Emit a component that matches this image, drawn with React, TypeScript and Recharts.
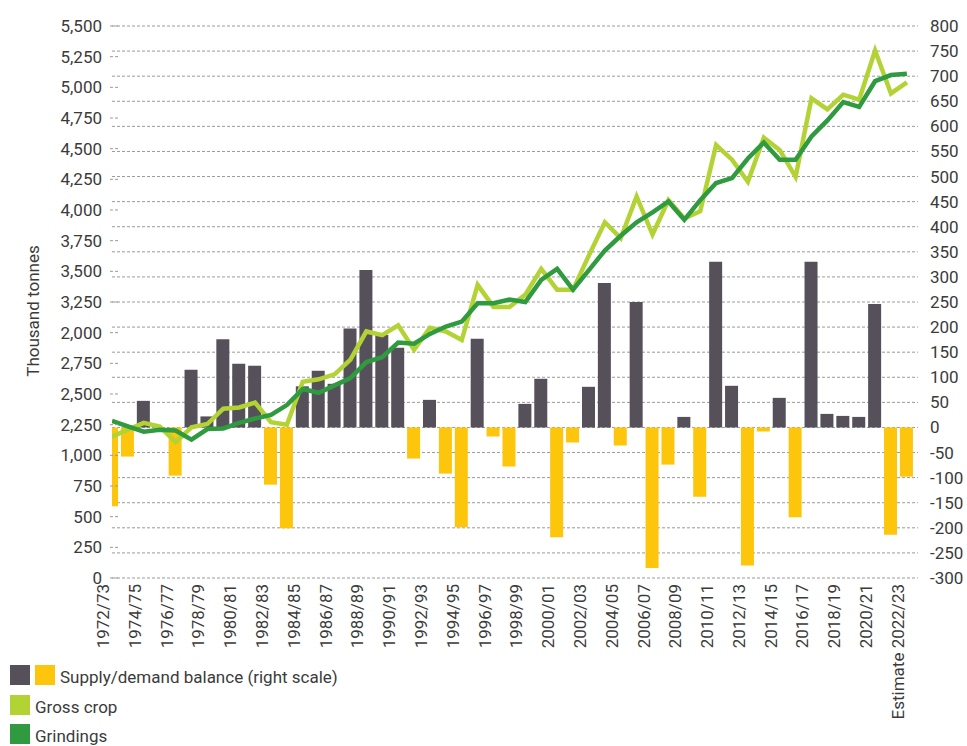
import React from "react";
import { ComposedChart, Bar, Line, XAxis, YAxis, CartesianGrid, Cell } from "recharts";

const SEASONS = [
  "1972/73", "1973/74", "1974/75", "1975/76", "1976/77", "1977/78", "1978/79", "1979/80", "1980/81", "1981/82",
  "1982/83", "1983/84", "1984/85", "1985/86", "1986/87", "1987/88", "1988/89", "1989/90", "1990/91", "1991/92",
  "1992/93", "1993/94", "1994/95", "1995/96", "1996/97", "1997/98", "1998/99", "1999/00", "2000/01", "2001/02",
  "2002/03", "2003/04", "2004/05", "2005/06", "2006/07", "2007/08", "2008/09", "2009/10", "2010/11", "2011/12",
  "2012/13", "2013/14", "2014/15", "2015/16", "2016/17", "2017/18", "2018/19", "2019/20", "2020/21", "2021/22",
  "2022/23",
];

// Supply/demand balance, thousand tonnes (right scale)
const BALANCE = [
  -157, -58, 53, 0, -96, 115, 22, 176, 127, 123,
  -114, -201, 82, 113, 87, 197, 314, 184, 159, -62,
  55, -92, -199, 177, -18, -78, 47, 97, -219, -30,
  81, 288, -36, 250, -280, -74, 21, -138, 330, 83,
  -275, -8, 59, -179, 330, 27, 23, 21, 246, -214,
  -98,
];

// Gross crop, as read against the left-axis labels
const GROSS_CROP = [
  1760, 2050, 2265, 2175, 1540, 2140, 2255, 2380, 2390, 2430,
  2270, 2250, 2600, 2620, 2660, 2780, 3010, 2980, 3060, 2860,
  3040, 3010, 2940, 3390, 3210, 3210, 3310, 3520, 3350, 3350,
  3630, 3900, 3770, 4110, 3800, 4080, 3930, 3990, 4530, 4410,
  4230, 4590, 4490, 4270, 4910, 4820, 4940, 4900, 5300, 4950,
  5040,
];

// Grindings, as read against the left-axis labels
const GRINDINGS = [
  2280, 2185, 1965, 2045, 2010, 1640, 2070, 2095, 2265, 2300,
  2330, 2410, 2540, 2510, 2570, 2630, 2760, 2800, 2920, 2910,
  2990, 3050, 3090, 3240, 3240, 3270, 3250, 3430, 3520, 3350,
  3510, 3670, 3790, 3900, 3980, 4070, 3920, 4080, 4220, 4260,
  4420, 4550, 4410, 4410, 4600, 4730, 4880, 4840, 5050, 5100,
  5110,
];

const LEFT_TICK_LABELS = [
  "0", "250", "500", "750", "1,000", "2,250", "2,500", "2,750", "2,000", "3,250",
  "3,500", "3,750", "4,000", "4,250", "4,500", "4,750", "5,000", "5,250", "5,500",
];

const RIGHT_TICKS = [
  -300, -250, -200, -150, -100, -50, 0, 50, 100, 150, 200, 250,
  300, 350, 400, 450, 500, 550, 600, 650, 700, 750, 800,
];

const X_TICK_LABELS = [
  "1972/73", "1974/75", "1976/77", "1978/79", "1980/81", "1982/83", "1984/85", "1986/87", "1988/89",
  "1990/91", "1992/93", "1994/95", "1996/97", "1998/99", "2000/01", "2002/03", "2004/05", "2006/07",
  "2008/09", "2010/11", "2012/13", "2014/15", "2016/17", "2018/19", "2020/21", "Estimate 2022/23",
];

const FONT = "Roboto, 'Noto Sans', sans-serif";
const TEXT = "#3b3b3b";
const GRAY = "#55505a";
const YELLOW = "#fdc50c";
const LIGHT_GREEN = "#b3d335";
const DARK_GREEN = "#2f9a3f";
const GRID = "#9a9a9a";

// Broken left axis: label step 1,000 -> 2,250 occupies one 250-unit slot
const toAxis = (v: number) => {
  if (v <= 1000) return v;
  if (v >= 2250) return v - 1000;
  return 1000 + ((v - 1000) * 250) / 1250;
};

const LEFT_TICKS = LEFT_TICK_LABELS.map((_, i) => i * 250);
const X_TICKS = X_TICK_LABELS.map((_, i) => i * 2);

const rows = SEASONS.map((season, i) => ({
  idx: i,
  season,
  balance: BALANCE[i],
  crop: toAxis(GROSS_CROP[i]),
  grind: toAxis(GRINDINGS[i]),
}));

const LeftTick = (props: any) => {
  const { x, y, payload } = props;
  const i = Math.round(payload.value / 250);
  return (
    <g>
      <text x={x} y={y} textAnchor="end" dominantBaseline="central" fill={TEXT} fontSize={17} fontFamily={FONT}>
        {LEFT_TICK_LABELS[i]}
      </text>
      <line x1={x + 8} x2={x + 18} y1={y} y2={y} stroke={GRID} strokeDasharray="3 2" />
    </g>
  );
};

const XTick = (props: any) => {
  const { x, y, payload } = props;
  const label = X_TICK_LABELS[Math.round(payload.value / 2)];
  const tx = x - 9;
  const ty = y;
  return (
    <text
      x={tx}
      y={ty}
      transform={`rotate(-90 ${tx} ${ty})`}
      textAnchor="end"
      dominantBaseline="central"
      fill={TEXT}
      fontSize={17}
      fontFamily={FONT}
    >
      {label}
    </text>
  );
};

const sq = (color: string): React.CSSProperties => ({
  width: 20,
  height: 20,
  background: color,
  flex: "0 0 auto",
});

export default function App() {
  return (
    <div style={{ position: "absolute", left: 0, top: 0, width: 967, height: 746, background: "#fff", fontFamily: FONT, overflow: "hidden" }}>
      <ComposedChart width={967} height={746} data={rows} margin={{ top: 26, right: 4, bottom: 8, left: 12 }}>
        <CartesianGrid yAxisId="right" vertical={false} stroke={GRID} strokeDasharray="3 2" />
        <XAxis
          type="number"
          dataKey="idx"
          domain={[0, 50.7]}
          allowDataOverflow
          ticks={X_TICKS}
          interval={0}
          height={160}
          tickLine={false}
          axisLine={false}
          tickSize={0}
          tickMargin={6}
          tick={(p: any) => <XTick {...p} />}
        />
        <YAxis
          yAxisId="left"
          orientation="left"
          type="number"
          domain={[0, 4500]}
          allowDataOverflow
          ticks={LEFT_TICKS}
          interval={0}
          width={100}
          tickLine={false}
          axisLine={false}
          tickSize={0}
          tickMargin={10}
          tick={(p: any) => <LeftTick {...p} />}
        />
        <YAxis
          yAxisId="right"
          orientation="right"
          type="number"
          domain={[-300, 800]}
          allowDataOverflow
          ticks={RIGHT_TICKS}
          interval={0}
          width={45}
          tickLine={false}
          axisLine={false}
          tickSize={0}
          tickMargin={12}
          tick={{ fill: TEXT, fontSize: 17, fontFamily: FONT }}
        />
        <Bar yAxisId="right" dataKey="balance" barSize={13} isAnimationActive={false}>
          {rows.map((r, i) => (
            <Cell key={i} fill={r.balance >= 0 ? GRAY : YELLOW} />
          ))}
        </Bar>
        <Line yAxisId="left" type="linear" dataKey="crop" stroke={LIGHT_GREEN} strokeWidth={4.5} dot={false} activeDot={false} isAnimationActive={false} />
        <Line yAxisId="left" type="linear" dataKey="grind" stroke={DARK_GREEN} strokeWidth={4.5} dot={false} activeDot={false} isAnimationActive={false} />
      </ComposedChart>

      <div
        style={{
          position: "absolute",
          left: 33 - 100,
          top: 311 - 12,
          width: 200,
          height: 24,
          lineHeight: "24px",
          textAlign: "center",
          transform: "rotate(-90deg)",
          fontSize: 17,
          color: TEXT,
        }}
      >
        Thousand tonnes
      </div>

      <div style={{ position: "absolute", left: 10, top: 665, display: "flex", alignItems: "center", height: 20 }}>
        <div style={sq(GRAY)} />
        <div style={{ ...sq(YELLOW), marginLeft: 5 }} />
        <div style={{ marginLeft: 5, fontSize: 17, color: TEXT, lineHeight: "20px", position: "relative", top: 2, whiteSpace: "nowrap" }}>
          Supply/demand balance (right scale)
        </div>
      </div>
      <div style={{ position: "absolute", left: 10, top: 695, display: "flex", alignItems: "center", height: 20 }}>
        <div style={sq(LIGHT_GREEN)} />
        <div style={{ marginLeft: 5, fontSize: 17, color: TEXT, lineHeight: "20px", position: "relative", top: 2, whiteSpace: "nowrap" }}>
          Gross crop
        </div>
      </div>
      <div style={{ position: "absolute", left: 10, top: 724, display: "flex", alignItems: "center", height: 20 }}>
        <div style={sq(DARK_GREEN)} />
        <div style={{ marginLeft: 5, fontSize: 17, color: TEXT, lineHeight: "20px", position: "relative", top: 2, whiteSpace: "nowrap" }}>
          Grindings
        </div>
      </div>
    </div>
  );
}
